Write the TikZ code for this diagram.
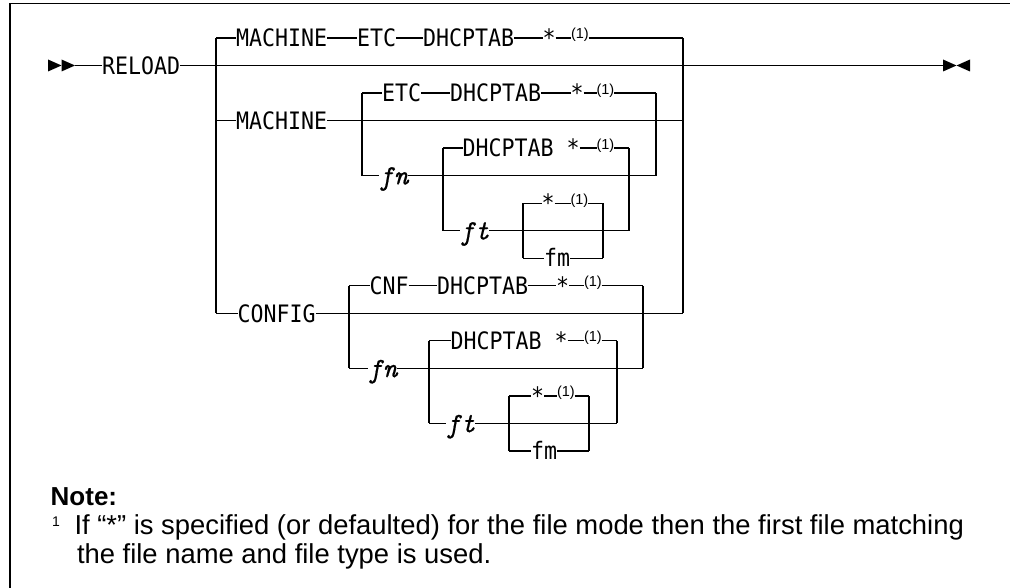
\documentclass[tikz,border=0pt]{standalone}
\usepackage{fontspec}
\setmainfont{Liberation Sans}
\newfontfamily\kwfont{DejaVu Sans Mono}[FakeStretch=0.9]
\newfontfamily\varfont{lmmono10-italic.otf}[FakeBold=0.5]
\begin{document}
\begin{tikzpicture}[x=1pt,y=-1pt,
  conn/.style={line width=1.2pt},
  kw/.style={inner sep=0pt, outer sep=0pt, anchor=west, text height=17.5pt, text depth=0pt,
             font=\kwfont\fontsize{24pt}{24pt}\selectfont},
  var/.style={kw, font=\varfont\fontsize{28pt}{28pt}\selectfont},
  fnref/.style={inner sep=0pt, outer sep=0pt, anchor=west, text height=2pt, text depth=0pt,
             font=\fontsize{14.5pt}{14.5pt}\selectfont},
  notetxt/.style={inner sep=0pt, outer sep=0pt, anchor=base west, font=\fontsize{27.4pt}{29pt}\selectfont},
  marker/.style={fill=black},
]
\useasboundingbox (0,0) rectangle (1010,588);
% frame
\draw[line width=1.2pt] (1010,3.5) -- (10,3.5) -- (10,588);

% start / end markers
\fill[marker] (48,59.5) -- (61.5,65.5) -- (48,71.5) -- cycle;
\fill[marker] (61.5,59.5) -- (75,65.5) -- (61.5,71.5) -- cycle;
\coordinate (start) at (75,65.5);
\fill[marker] (943,59.5) -- (956.5,65.5) -- (943,71.5) -- cycle;
\fill[marker] (970,59.5) -- (956.5,65.5) -- (970,71.5) -- cycle;
\coordinate (stop) at (943,65.5);

% ---------- junction coordinates ----------
\coordinate (oL1) at (216,38);    \coordinate (oR1) at (683,38);
\coordinate (oL0) at (216,65.5);  \coordinate (oR0) at (683,65.5);
\coordinate (oL3) at (216,120.6); \coordinate (oR3) at (683,120.6);
\coordinate (oL10) at (216,313.3);\coordinate (oR10) at (683,313.3);
\coordinate (aL2) at (362,93.1);  \coordinate (aR2) at (656,93.1);
\coordinate (aL5) at (362,175.7); \coordinate (aR5) at (656,175.7);
\coordinate (bL4) at (443,148.1); \coordinate (bR4) at (629,148.1);
\coordinate (bL7) at (443,230.7); \coordinate (bR7) at (629,230.7);
\coordinate (cL6) at (523,203.2); \coordinate (cR6) at (603,203.2);
\coordinate (cL8) at (523,258.2); \coordinate (cR8) at (603,258.2);
\coordinate (dL9) at (349,285.8); \coordinate (dR9) at (643,285.8);
\coordinate (dL12) at (349,368.4);\coordinate (dR12) at (643,368.4);
\coordinate (eL11) at (429,340.8);\coordinate (eR11) at (617,340.8);
\coordinate (eL14) at (429,423.4);\coordinate (eR14) at (617,423.4);
\coordinate (fL13) at (509,395.9);\coordinate (fR13) at (589,395.9);
\coordinate (fL15) at (509,450.9);\coordinate (fR15) at (589,450.9);

% ---------- text nodes ----------
\node[kw] (reload) at (102,65.5) {RELOAD};
\node[kw] (m1) at (236,38) {MACHINE};
\node[kw] (etc1) at (357,38) {ETC};
\node[kw] (dh1) at (423,38) {DHCPTAB};
\node[kw] (st1) at (542.5,38) {*};
\node[fnref] (s1) at (571,38) {(1)};
\node[kw] (etc2) at (382,93.1) {ETC};
\node[kw] (dh2) at (450,93.1) {DHCPTAB};
\node[kw] (st2) at (570.5,93.1) {*};
\node[fnref] (s2) at (596.5,93.1) {(1)};
\node[kw] (m3) at (236,120.6) {MACHINE};
\node[kw] (dh4) at (462.5,148.1) {DHCPTAB *};
\node[fnref] (s4) at (596.5,148.1) {(1)};
\node[var] (fn5) at (379,175.7) {fn};
\node[kw] (st6) at (541.5,203.2) {*};
\node[fnref] (s6) at (570.5,203.2) {(1)};
\node[var] (ft7) at (460,230.7) {ft};
\node[kw] (fm8) at (544,258.2) {fm};
\node[kw] (cnf) at (369.5,285.8) {CNF};
\node[kw] (dh9) at (437,285.8) {DHCPTAB};
\node[kw] (st9) at (556,285.8) {*};
\node[fnref] (s9) at (584,285.8) {(1)};
\node[kw] (cfg) at (237.5,313.3) {CONFIG};
\node[kw] (dh11) at (450.5,340.8) {DHCPTAB *};
\node[fnref] (s11) at (584,340.8) {(1)};
\node[var] (fn12) at (368,368.4) {fn};
\node[kw] (st13) at (531,395.9) {*};
\node[fnref] (s13) at (557,395.9) {(1)};
\node[var] (ft14) at (446,423.4) {ft};
\node[kw] (fm15) at (531,450.9) {fm};

% ---------- connectors ----------
\draw[conn] (start) -- (reload) -- (oL0) -- (stop);
\draw[conn] (oL1) -- (oL10);
\draw[conn] (oR1) -- (oR10);
\draw[conn] (oL1) -- (m1) -- (etc1) -- (dh1) -- (st1) -- (s1) -- (oR1);
\draw[conn] (oL3) -- (m3) -- (oR3);
\draw[conn] (aL2) -- (aL5);
\draw[conn] (aR2) -- (aR5);
\draw[conn] (aL2) -- (etc2) -- (dh2) -- (st2) -- (s2) -- (aR2);
\draw[conn] (aL5) -- (fn5) -- (aR5);
\draw[conn] (bL4) -- (bL7);
\draw[conn] (bR4) -- (bR7);
\draw[conn] (bL4) -- (dh4) -- (s4) -- (bR4);
\draw[conn] (bL7) -- (ft7) -- (bR7);
\draw[conn] (cL6) -- (cL8);
\draw[conn] (cR6) -- (cR8);
\draw[conn] (cL6) -- (st6) -- (s6) -- (cR6);
\draw[conn] (cL8) -- (fm8) -- (cR8);
\draw[conn] (oL10) -- (cfg) -- (oR10);
\draw[conn] (dL9) -- (dL12);
\draw[conn] (dR9) -- (dR12);
\draw[conn] (dL9) -- (cnf) -- (dh9) -- (st9) -- (s9) -- (dR9);
\draw[conn] (dL12) -- (fn12) -- (dR12);
\draw[conn] (eL11) -- (eL14);
\draw[conn] (eR11) -- (eR14);
\draw[conn] (eL11) -- (dh11) -- (s11) -- (eR11);
\draw[conn] (eL14) -- (ft14) -- (eR14);
\draw[conn] (fL13) -- (fL15);
\draw[conn] (fR13) -- (fR15);
\draw[conn] (fL13) -- (st13) -- (s13) -- (fR13);
\draw[conn] (fL15) -- (fm15) -- (fR15);

% ---------- note ----------
\node[inner sep=0pt, anchor=base west, font=\bfseries\fontsize{26pt}{30pt}\selectfont] (note) at (50.5,505) {Note:};
\node[inner sep=0pt, anchor=base west, font=\fontsize{14pt}{14pt}\selectfont] (fnmark) at (52,526) {1};
\node[notetxt] (line1) at (74.5,534) {If “*” is specified (or defaulted) for the file mode then the first file matching};
\node[notetxt] (line2) at (77,563) {the file name and file type is used.};
\end{tikzpicture}
\end{document}
